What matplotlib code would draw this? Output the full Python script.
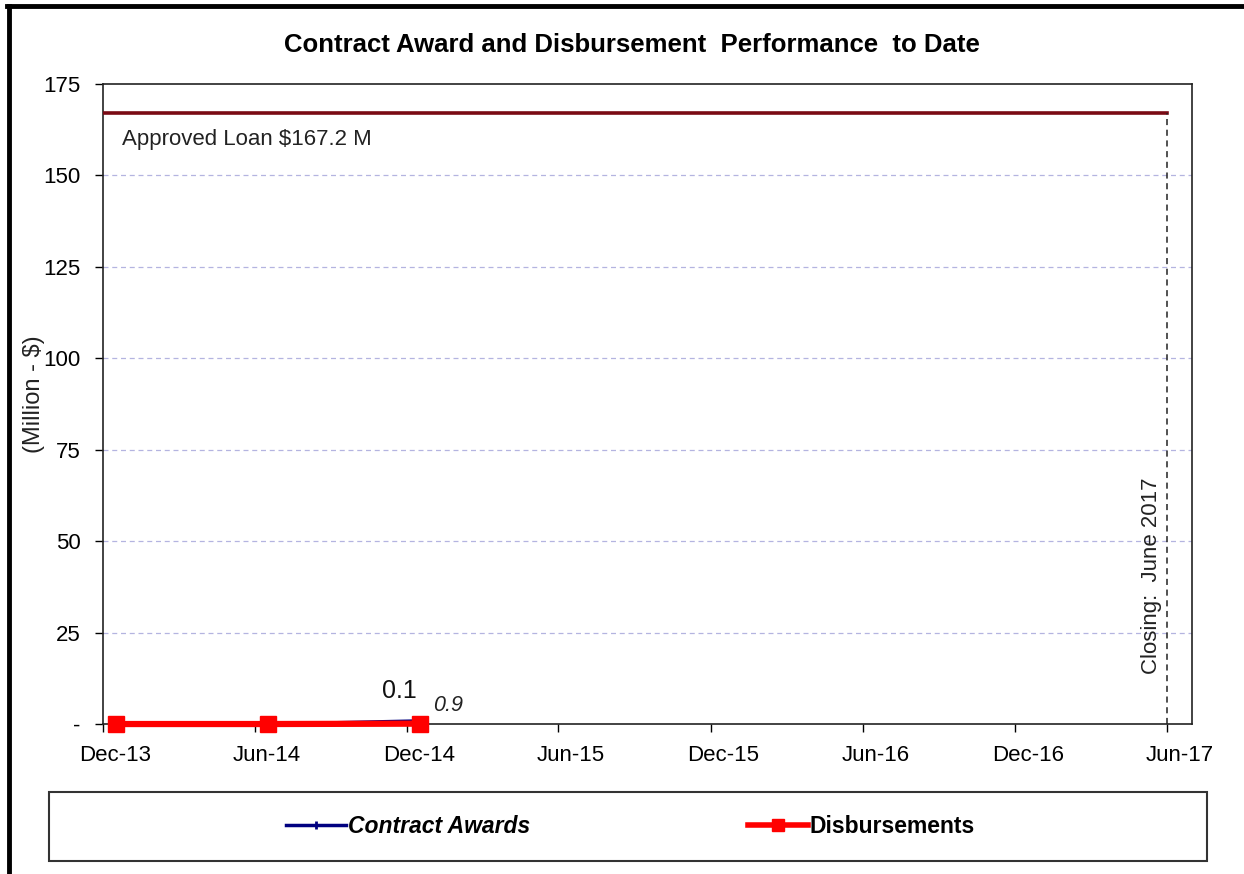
import matplotlib
matplotlib.use("Agg")
import matplotlib.pyplot as plt
from matplotlib.lines import Line2D
from matplotlib.patches import Rectangle
from matplotlib.font_manager import FontProperties
from datetime import datetime

# data
report_dates = ["2013-12-17", "2014-06-17", "2014-12-17"]
contract_awards = [0.0, 0.0, 0.9]
disbursements = [0.0, 0.0, 0.1]
approved_loan = 167.2
loan_start = "2013-12-01"
closing_date = "2017-06-01"
tick_months = ["2013-12", "2014-06", "2014-12", "2015-06", "2015-12", "2016-06", "2016-12", "2017-06"]
tick_labels = ["Dec-13", "Jun-14", "Dec-14", "Jun-15", "Dec-15", "Jun-16", "Dec-16", "Jun-17"]
y_ticks = [0, 25, 50, 75, 100, 125, 150, 175]

plt.rcParams['font.family'] = ['Liberation Sans', 'DejaVu Sans']

d = [datetime.strptime(s, "%Y-%m-%d") for s in report_dates]
major = [datetime.strptime(m + "-01", "%Y-%m-%d") for m in tick_months]
minor = [datetime.strptime(m + "-16", "%Y-%m-%d") for m in tick_months]

fig = plt.figure(figsize=(12.44, 8.74), dpi=100)
ax = fig.add_axes([0.0828, 0.1716, 0.8754, 0.7323])

# gridlines
for v in y_ticks[1:-1]:
    ax.axhline(v, color='#b4b4e0', lw=0.9, ls=(0, (4, 3)), zorder=1)

# approved loan line and closing line
ax.plot([datetime.strptime(loan_start, "%Y-%m-%d"), datetime.strptime(closing_date, "%Y-%m-%d")],
        [approved_loan, approved_loan], color='#7a0a14', lw=2.6, zorder=3)
cd = datetime.strptime(closing_date, "%Y-%m-%d")
ax.plot([cd, cd], [0, approved_loan], color='#222222', lw=1.1, ls=(0, (4, 3)), zorder=3)

ax.plot(d, contract_awards, color='#000080', lw=2.2, marker='D', ms=3.5, zorder=4,
        label='Contract Awards', clip_on=False)
ax.plot(d, disbursements, color='#ff0000', lw=4.5, marker='s', ms=11, zorder=5,
        label='Disbursements', clip_on=False)

ax.text(datetime(2013, 12, 24), 159.8, "Approved Loan $167.2 M", fontsize=16,
        va='center', ha='left', color='#222222')
ax.text(datetime(2017, 5, 13), 40.5, "Closing:  June 2017", fontsize=16, rotation=90,
        va='center', ha='center', color='#222222')
ax.text(d[2] - (d[2] - d[1]) * 0.02, disbursements[2] + 8.8, "%.1f" % disbursements[2], fontsize=18,
        ha='right', va='center', color='#111111')
ax.text(datetime(2015, 1, 19), contract_awards[2] + 4.3, "%.1f" % contract_awards[2],
        fontsize=15.5, style='italic', ha='center', va='center', color='#222222')

ax.set_xlim(datetime(2013, 12, 1), datetime(2017, 7, 1))
ax.set_ylim(0, 175)
ax.set_xticks(major)
ax.set_xticklabels([""] * len(major))
ax.set_xticks(minor, minor=True)
ax.set_xticklabels(tick_labels, minor=True, fontsize=16)
ax.tick_params(axis='x', which='major', direction='out', length=6, width=1)
ax.tick_params(axis='x', which='minor', length=0, pad=15)
ax.set_yticks(y_ticks)
ax.set_yticklabels(["-"] + [str(v) for v in y_ticks[1:]], fontsize=16)
ax.tick_params(axis='y', direction='out', length=6, width=1, pad=10)
for s in ax.spines.values():
    s.set_linewidth(1.2)
    s.set_color('#222222')

ax.set_ylabel("(Million - $)", fontsize=17, color='#222222')
ax.yaxis.set_label_coords(-0.053, 0.515)

fig.text(0.508, 0.949, "Contract Award and Disbursement  Performance  to Date",
         fontsize=18.5, fontweight='bold', ha='center', va='center')

# legend box below chart
fig.patches.append(Rectangle((0.0394, 0.0149), 0.9306, 0.0789, transform=fig.transFigure,
                             fill=False, ec='#333333', lw=1.5))
h, l = ax.get_legend_handles_labels()
h = [Line2D([], [], color='#000080', lw=2.5, marker='+', ms=6, mew=2),
     Line2D([], [], color='#ff0000', lw=4, marker='s', ms=9)]
fp = FontProperties(family=['Liberation Sans Narrow', 'Liberation Sans'], weight='bold', size=16.5)
leg = fig.legend(h, l, loc='center', bbox_to_anchor=(0.507, 0.054), ncol=2, frameon=False,
                 prop=fp, handlelength=2.6, handletextpad=0.1, columnspacing=9.5)
leg.get_texts()[0].set_style('italic')

# outer frame (left and top only)
fig.add_artist(Line2D([0.0072, 0.0072], [0, 0.993], transform=fig.transFigure, color='black', lw=3.5))
fig.add_artist(Line2D([0.0058, 1.0], [0.993, 0.993], transform=fig.transFigure, color='black', lw=3.5))

fig.savefig("out.png", dpi=100)
